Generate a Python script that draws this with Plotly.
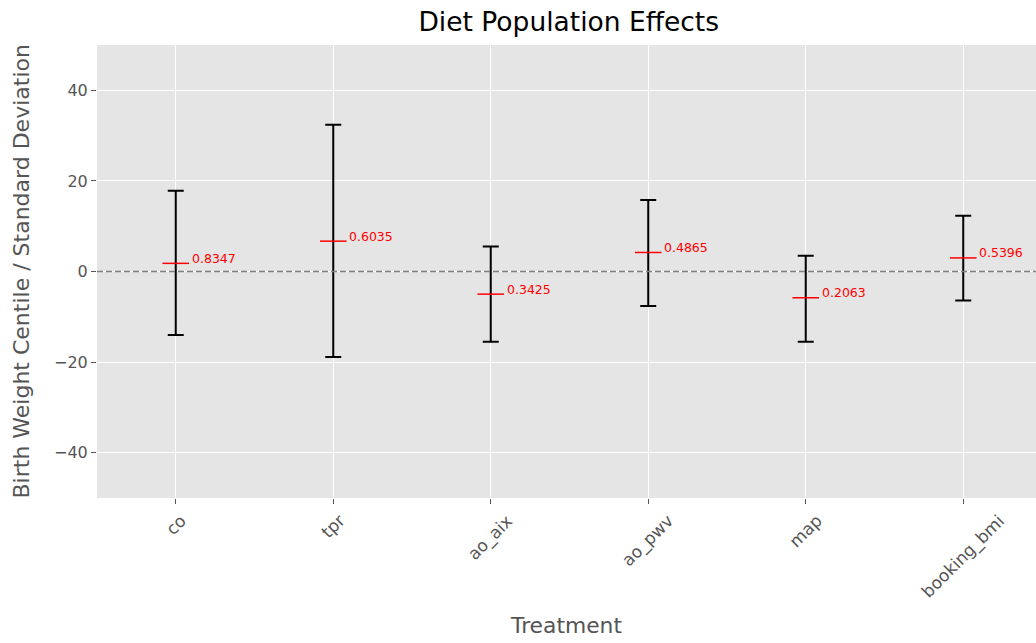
import plotly.graph_objects as go

treatments = ["co", "tpr", "ao_aix", "ao_pwv", "map", "booking_bmi"]
means = [1.8, 6.7, -5.0, 4.2, -5.8, 3.0]
upper = [17.8, 32.4, 5.5, 15.8, 3.5, 12.3]
lower = [-14.0, -18.9, -15.5, -7.6, -15.5, -6.4]
p_labels = ["0.8347", "0.6035", "0.3425", "0.4865", "0.2063", "0.5396"]

FONT = "DejaVu Sans"
xs = list(range(len(treatments)))

fig = go.Figure()
fig.add_trace(go.Scatter(
    x=xs, y=means, mode="markers",
    marker=dict(symbol="line-ew", size=19, color="red",
                line=dict(color="red", width=1.5)),
    error_y=dict(type="data", symmetric=False,
                 array=[u - m for u, m in zip(upper, means)],
                 arrayminus=[m - l for m, l in zip(means, lower)],
                 color="black", thickness=2, width=8),
    showlegend=False, hoverinfo="skip",
))

for i, (m, lab) in enumerate(zip(means, p_labels)):
    fig.add_annotation(x=xs[i], y=m, xref="x", yref="y", text=lab,
                       showarrow=False, xanchor="left", yanchor="middle",
                       xshift=14, yshift=5,
                       font=dict(family=FONT, size=12.5, color="red"))

for i, t in enumerate(treatments):
    fig.add_annotation(x=xs[i], y=-0.022, xref="x", yref="paper", text=t,
                       showarrow=False, textangle=-45,
                       xanchor="center", yanchor="top",
                       font=dict(family=FONT, size=17, color="#555555"))

# y-axis title
fig.add_annotation(x=-0.0799, y=0.5, xref="paper", yref="paper",
                   text="Birth Weight Centile / Standard Deviation",
                   showarrow=False, textangle=-90,
                   xanchor="center", yanchor="middle",
                   font=dict(family=FONT, size=22, color="#555555"))

fig.add_shape(type="line", xref="paper", yref="y", x0=0, x1=1, y0=0, y1=0,
              line=dict(color="#808080", width=1.3, dash="6px,3px"))

fig.update_layout(
    width=1036, height=643,
    margin=dict(l=97, r=0, t=45, b=145),
    paper_bgcolor="white", plot_bgcolor="#E5E5E5",
    font=dict(family=FONT, color="#555555"),
    title=dict(text="Diet Population Effects", x=0.549, xanchor="center",
               y=0.966, yanchor="middle",
               font=dict(family=FONT, size=26.5, color="black")),
)
fig.update_xaxes(
    range=[-0.5, 5.462], tickmode="array", tickvals=xs,
    showticklabels=False,
    ticks="outside", ticklen=5, tickcolor="#555555",
    showgrid=True, gridcolor="white", gridwidth=1, zeroline=False,
    title=dict(text="Treatment", font=dict(family=FONT, size=21.8, color="#555555"),
               standoff=114),
    showline=False,
)
fig.update_yaxes(
    range=[-50, 50], tickvals=[-40, -20, 0, 20, 40],
    ticktext=["\u221240", "\u221220", "0", "20", "40"],
    ticks="outside", ticklen=5, tickcolor="#555555",
    tickfont=dict(family=FONT, size=16, color="#555555"),
    showgrid=True, gridcolor="white", gridwidth=1, zeroline=False,
)

fig.write_html("out.html")
